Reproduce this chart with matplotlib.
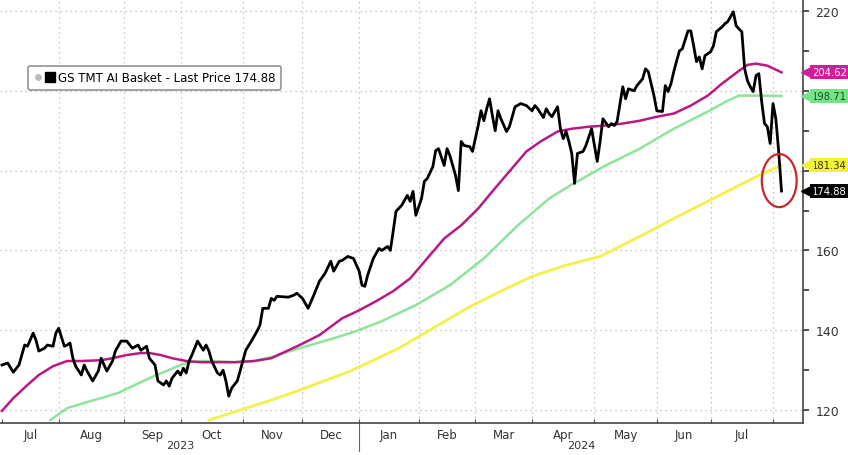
import numpy as np
import matplotlib
matplotlib.use("Agg")
import matplotlib.pyplot as plt
from matplotlib.patches import Ellipse
from matplotlib.lines import Line2D
from matplotlib.legend_handler import HandlerTuple

plt.rcParams['font.family'] = ['Liberation Sans Narrow', 'DejaVu Sans']

# trading days per month, Jul 2023 .. Jul 2024
month_names = ['Jul', 'Aug', 'Sep', 'Oct', 'Nov', 'Dec', 'Jan', 'Feb', 'Mar', 'Apr', 'May', 'Jun', 'Jul']
month_days = [20, 23, 20, 22, 21, 20, 21, 20, 20, 22, 22, 19, 22]
years = ['2023', '2024']

# GS TMT AI Basket, last price (x = trading day from 3 Jul 2023)
price_t = [0, 2, 4, 6, 8, 9, 11, 12, 13, 15,
           16, 18, 19, 20, 22, 23, 24, 25, 26, 28,
           29, 30, 32, 34, 35, 36, 37, 39, 40, 42,
           44, 46, 48, 49, 51, 52, 54, 55, 57, 58,
           59, 60, 62, 63, 64, 65, 66, 67, 69, 71,
           72, 73, 74, 76, 77, 78, 79, 80, 81, 83,
           84, 86, 88, 90, 91, 92, 94, 95, 96, 97,
           101, 103, 104, 106, 108, 110, 112, 114, 116, 117,
           119, 120, 122, 124, 126, 127, 128, 129, 131, 133,
           134, 136, 137, 138, 139, 141, 143, 144, 145, 146,
           148, 149, 150, 152, 153, 154, 156, 157, 158, 159,
           160, 161, 162, 163, 165, 166, 168, 169, 170, 171,
           172, 173, 174, 175, 176, 178, 179, 181, 183, 185,
           187, 188, 189, 191, 192, 193, 194, 196, 197, 198,
           199, 200, 201, 202, 203, 205, 206, 208, 209, 210,
           211, 212, 214, 215, 216, 217, 219, 220, 221, 223,
           224, 226, 227, 228, 230, 231, 233, 234, 235, 236,
           237, 238, 239, 240, 242, 243, 244, 245, 246, 247,
           248, 250, 251, 252, 254, 255, 256, 258, 259, 260,
           261, 262, 263, 264, 265, 266, 267, 268, 269, 270,
           271, 272, 273, 274, 275]
price_v = [131.3, 131.8, 129.5, 131.3, 136.3, 136.0, 139.3, 137.5, 134.8, 135.5,
           136.3, 136.0, 139.3, 140.5, 136.0, 136.3, 136.8, 133.0, 131.0, 128.8,
           131.3, 129.8, 127.3, 129.8, 133.0, 131.3, 129.8, 132.3, 134.8, 137.3,
           137.3, 135.5, 136.3, 135.0, 136.0, 133.0, 131.3, 127.3, 126.3, 127.3,
           126.0, 128.0, 129.8, 128.8, 130.5, 129.3, 132.3, 133.8, 137.3, 135.0,
           136.3, 134.8, 132.3, 129.3, 128.8, 130.0, 127.3, 123.5, 125.5, 127.3,
           129.8, 135.0, 137.3, 139.8, 141.3, 145.5, 145.5, 148.0, 147.5, 148.5,
           148.3, 148.8, 149.3, 148.0, 145.5, 148.8, 152.3, 154.3, 157.3, 154.8,
           157.3, 157.5, 158.5, 158.0, 154.8, 151.3, 151.0, 153.8, 158.0, 160.5,
           160.0, 161.0, 160.0, 164.8, 169.8, 171.3, 173.8, 172.3, 174.8, 168.8,
           173.0, 177.3, 178.0, 181.0, 185.0, 185.5, 181.3, 185.5, 183.8, 181.3,
           178.8, 175.0, 187.3, 186.3, 186.0, 184.8, 191.3, 195.0, 192.5, 195.5,
           198.0, 193.8, 190.0, 195.0, 193.0, 189.8, 191.0, 196.0, 196.8, 196.3,
           195.0, 196.3, 195.5, 193.3, 195.5, 194.3, 193.5, 196.0, 190.5, 188.0,
           189.8, 187.3, 184.3, 176.8, 184.3, 184.8, 186.3, 190.5, 186.3, 182.3,
           187.3, 193.0, 191.0, 191.8, 191.3, 192.3, 201.0, 198.0, 200.5, 200.0,
           201.3, 203.0, 205.5, 204.8, 198.8, 195.0, 194.8, 201.3, 199.8, 201.8,
           204.8, 207.5, 210.0, 210.5, 215.0, 215.0, 211.3, 207.3, 208.5, 205.5,
           208.8, 209.8, 211.3, 214.8, 216.0, 216.8, 217.3, 219.8, 216.3, 215.5,
           214.8, 205.5, 202.5, 201.0, 199.8, 203.8, 204.3, 197.3, 191.8, 191.0,
           186.8, 196.8, 193.0, 184.8, 174.88]

# moving averages
ma50_t = [0, 4, 9, 13, 18, 23, 28, 35, 39, 44, 49, 52, 56, 60, 65, 70, 75, 82, 89, 95,
          105, 112, 120, 126, 132, 138, 144, 150, 156, 162, 168, 173, 179, 185, 190, 196,
          201, 207, 213, 219, 225, 231, 237, 243, 249, 254, 260, 263, 266, 270, 275]
ma50_v = [119.8, 123.0, 126.3, 128.8, 131.0, 132.3, 132.3, 132.5, 133.0, 133.8, 134.3, 134.3,
          133.8, 133.0, 132.3, 132.0, 132.0, 132.0, 132.3, 133.0,
          136.3, 138.8, 143.0, 145.0, 147.3, 149.8, 153.0, 158.0, 163.0, 166.3, 170.5, 174.8,
          179.8, 184.8, 187.3, 189.8, 190.5, 191.0, 191.3, 191.8, 192.5, 193.5, 194.3, 196.3,
          198.8, 201.8, 205.0, 206.5, 206.8, 206.3, 204.62]

ma100_t = [17, 23, 29, 35, 41, 46, 52, 58, 62, 65, 70, 75, 82, 89, 95, 105, 117, 125, 134,
           146, 158, 170, 182, 193, 201, 213, 225, 237, 249, 256, 260, 266, 275]
ma100_v = [117.5, 120.5, 121.8, 123.0, 124.3, 126.0, 128.0, 129.8, 131.0, 131.8, 132.3,
           132.3, 132.0, 132.3, 133.3, 135.5, 138.0, 139.8, 142.3, 146.3, 151.3, 158.0,
           166.3, 173.0, 176.5, 181.3, 185.5, 190.5, 194.8, 197.5, 198.8, 198.8, 198.71]

ma200_t = [73, 84, 95, 105, 123, 140, 152, 164, 176, 187, 199, 211, 225, 237, 249, 260, 267, 275]
ma200_v = [117.5, 120.0, 122.5, 125.0, 129.8, 135.5, 140.5, 145.5, 149.8, 153.5, 156.3,
           158.5, 163.5, 168.0, 172.3, 176.3, 178.8, 181.34]

month_start = np.concatenate([[0], np.cumsum(month_days)])
month_mid = (month_start[:-1] + month_start[1:]) / 2

fig = plt.figure(figsize=(8.48, 4.56), dpi=100)
ax = fig.add_axes([0.0, 0.07, 0.947, 0.93])

grid_kw = dict(color='#b4b4b4', linewidth=0.9, linestyle=(0, (1, 3)), zorder=0)
for v in [120, 140, 160, 180, 200, 220]:
    ax.axhline(v, **grid_kw)
for m in month_start[1:]:
    ax.axvline(m, **grid_kw)

ax.plot(ma200_t, ma200_v, color='#f2f04a', lw=2.0, zorder=2)
ax.plot(ma100_t, ma100_v, color='#8ee49a', lw=1.8, zorder=2)
ax.plot(ma50_t, ma50_v, color='#b91a82', lw=1.8, zorder=3)
ax.plot(price_t, price_v, color='black', lw=2.0, zorder=4)

ax.add_patch(Ellipse((274.2, 177.5), 12.3, 13.3, fill=False, ec='#c8282c', lw=1.6, zorder=5))

ax.set_xlim(-0.7, 282.6)
ax.set_ylim(116.75, 223)

# 180 and 200 sit behind the value tags, as in the original
ax.yaxis.tick_right()
ax.set_yticks([120, 140, 160, 180, 200, 220])
ax.set_yticklabels(['120', '140', '160', '', '', '220'])
ax.set_yticks([130, 150, 170, 190, 210], minor=True)
ax.tick_params(axis='y', which='both', direction='out', length=4, width=1.2,
               colors='#333333', labelsize=9, pad=5)
ax.set_xticks(month_start)
ax.set_xticklabels([])
ax.tick_params(axis='x', direction='in', length=3, color='#555555')

for s in ['left', 'top']:
    ax.spines[s].set_visible(False)
for s in ['right', 'bottom']:
    ax.spines[s].set_color('#444444')
    ax.spines[s].set_linewidth(1.2)

tx = ax.get_xaxis_transform()
for name, m in zip(month_names, month_mid):
    ax.text(m, -0.012, name, transform=tx, ha='center', va='top', fontsize=8.5, color='#333333')
year_x = [month_start[3], (month_start[6] + 283) / 2]
for yr, xpos in zip(years, year_x):
    ax.text(xpos, -0.052, yr, transform=tx, ha='center', va='center', fontsize=8, color='#333333')
ax.plot([month_start[6], month_start[6]], [0, -0.065], transform=tx, color='#666666',
        lw=0.8, clip_on=False)

# last value tags on the right axis
ty = ax.get_yaxis_transform()
tags = [(204.62, '#d21c9a', 'white'), (198.71, '#74e486', '#1d4a22'),
        (181.34, '#f3f03a', '#333300'), (174.88, 'black', 'white')]
for val, bg, fg in tags:
    ax.text(1.011, val, f'{val:.2f}', transform=ty, ha='left', va='center', fontsize=7.2,
            color=fg, bbox=dict(boxstyle='square,pad=0.2', fc=bg, ec='none'), clip_on=False)
    ax.plot([1.005], [val], transform=ty, marker='<', markersize=8, color=bg,
            clip_on=False, zorder=6)

h = (Line2D([], [], marker='o', color='#bbbbbb', ls='none', markersize=4),
     Line2D([], [], marker='s', color='black', ls='none', markersize=7))
ax.legend([h], ['GS TMT AI Basket - Last Price 174.88'], handler_map={tuple: HandlerTuple(ndivide=None, pad=0.2)},
          loc='upper left', bbox_to_anchor=(0.035, 0.842), borderaxespad=0, fontsize=8.5,
          frameon=True, fancybox=True, edgecolor='#777777', handlelength=1.8, handletextpad=0.3,
          borderpad=0.45)
ax.get_legend().get_frame().set_linewidth(1.2)

fig.savefig('out.png', dpi=100)
